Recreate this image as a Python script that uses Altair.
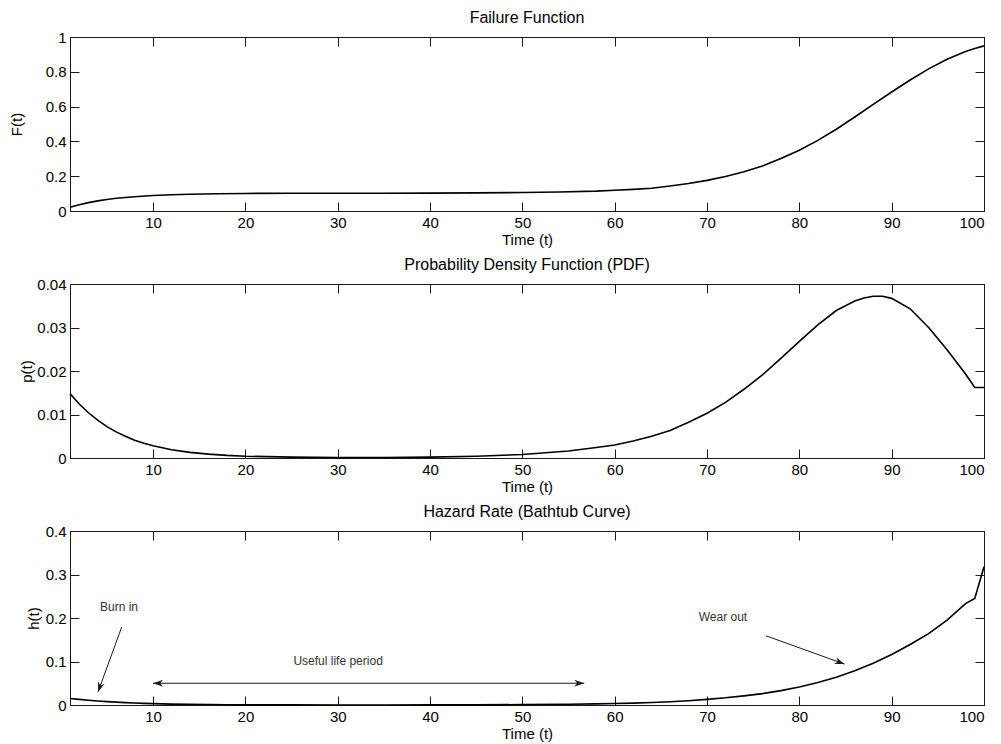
import math
import altair as alt
import pandas as pd

# ---------------- data ----------------
T_F = [1, 2, 3, 4, 5, 6, 7, 8, 10, 12, 14, 17, 20, 25, 30, 35, 40, 45, 50, 54, 58, 60,
       62, 64, 66, 68, 70, 72, 74, 76, 78, 80, 82, 84, 86, 88, 90, 92, 94, 96, 98, 99, 100]
F_VALUES = [0.021, 0.036, 0.048, 0.058, 0.066, 0.073, 0.078, 0.082, 0.089, 0.093, 0.096,
            0.099, 0.101, 0.102, 0.102, 0.102, 0.103, 0.104, 0.106, 0.109, 0.114, 0.119,
            0.124, 0.131, 0.144, 0.158, 0.176, 0.198, 0.225, 0.258, 0.302, 0.349, 0.406,
            0.470, 0.540, 0.613, 0.684, 0.753, 0.817, 0.872, 0.917, 0.934, 0.949]

T_P = [1, 2, 3, 4, 5, 6, 7, 8, 9, 10, 12, 14, 16, 18, 20, 25, 30, 35, 40, 45, 50, 55, 58,
       60, 62, 64, 66, 68, 70, 72, 74, 76, 78, 80, 82, 84, 86, 87, 88, 89, 90, 92, 94, 96,
       98, 99, 100]
P_VALUES = [0.0148, 0.0124, 0.0104, 0.0087, 0.0072, 0.0060, 0.0050, 0.0041, 0.0034, 0.0028,
            0.0019, 0.0013, 0.0009, 0.0006, 0.0004, 0.0002, 0.0001, 0.0001, 0.0002, 0.0004,
            0.0008, 0.0016, 0.0024, 0.0030, 0.0039, 0.0050, 0.0063, 0.0082, 0.0103, 0.0128,
            0.0158, 0.0191, 0.0229, 0.0268, 0.0306, 0.0339, 0.0361, 0.0368, 0.0372, 0.0372,
            0.0367, 0.0343, 0.0300, 0.0249, 0.0193, 0.0162, 0.0162]

T_H = [1, 2, 3, 4, 5, 6, 7, 8, 9, 10, 12, 14, 16, 18, 20, 25, 30, 35, 40, 45, 50, 55, 58,
       60, 62, 64, 66, 68, 70, 72, 74, 76, 78, 80, 82, 84, 86, 88, 90, 92, 94, 96, 98, 99, 100]
H_VALUES = [0.0151, 0.0129, 0.0109, 0.0092, 0.0077, 0.0065, 0.0054, 0.0045, 0.0037, 0.0031,
            0.0021, 0.0014, 0.0010, 0.0007, 0.0004, 0.0002, 0.0001, 0.0001, 0.0002, 0.0004,
            0.0009, 0.0018, 0.0027, 0.0034, 0.0044, 0.0057, 0.0073, 0.0097, 0.0130, 0.0165,
            0.0210, 0.0262, 0.0330, 0.0412, 0.0516, 0.0640, 0.0785, 0.0961, 0.1160, 0.1390,
            0.1640, 0.1950, 0.2330, 0.2450, 0.3180]

X_TICKS = [10, 20, 30, 40, 50, 60, 70, 80, 90, 100]
F_TICKS = [0, 0.2, 0.4, 0.6, 0.8, 1]
P_TICKS = [0, 0.01, 0.02, 0.03, 0.04]
H_TICKS = [0, 0.1, 0.2, 0.3, 0.4]

# annotations of the hazard panel
LABEL_TEXT = ["Burn in", "Useful life period", "Wear out"]
LABEL_T = [4.25, 25.2, 69.1]
LABEL_H = [0.225, 0.101, 0.202]

ARROW_T0 = [6.6, 10.0, 76.4]
ARROW_H0 = [0.179, 0.05, 0.159]
ARROW_T1 = [4.03, 56.7, 84.9]
ARROW_H1 = [0.030, 0.05, 0.094]

HEAD_T = [4.03, 10.0, 56.7, 84.9]
HEAD_H = [0.030, 0.05, 0.05, 0.094]
HEAD_FROM_T = [6.6, 56.7, 10.0, 76.4]
HEAD_FROM_H = [0.179, 0.05, 0.05, 0.159]

# ---------------- styling ----------------
FONT = "Liberation Sans"
W, H = 914, 174
X_DOMAIN = [1, 100]
INK = "#1a1a1a"
TICK_IN = alt.ExprRef(expr="-9")


def x_enc(bottom=True):
    if bottom:
        ax = alt.Axis(values=X_TICKS, title="Time (t)", orient="bottom", tickSize=TICK_IN,
                      labelPadding=13, titlePadding=2, grid=False)
    else:
        ax = alt.Axis(values=X_TICKS, title=None, orient="top", labels=False,
                      tickSize=TICK_IN, grid=False)
    return alt.X("t:Q", scale=alt.Scale(domain=X_DOMAIN, nice=False, zero=False), axis=ax)


def y_enc(col, title, domain, ticks, left=True, tpad=5):
    if left:
        ax = alt.Axis(values=ticks, title=title, orient="left", tickSize=TICK_IN,
                      labelPadding=13, titlePadding=tpad, grid=False, format="~g")
    else:
        ax = alt.Axis(values=ticks, title=None, orient="right", labels=False,
                      tickSize=TICK_IN, grid=False)
    return alt.Y(f"{col}:Q", scale=alt.Scale(domain=domain, nice=False), axis=ax)


def panel(t, v, col, ytitle, domain, ticks, title, tpad, extra=None):
    df = pd.DataFrame({"t": t, col: v})
    main = alt.Chart(df).mark_line(color="black", strokeWidth=1.6).encode(
        x=x_enc(True), y=y_enc(col, ytitle, domain, ticks, True, tpad))
    frame = alt.Chart(df).mark_line(strokeOpacity=0).encode(
        x=x_enc(False), y=y_enc(col, ytitle, domain, ticks, False))
    layers = [main, frame] + (extra or [])
    return alt.layer(*layers).resolve_axis(x="independent", y="independent").properties(
        width=W, height=H,
        title=alt.TitleParams(text=title, fontSize=16, fontWeight="normal", font=FONT,
                              color="black", offset=4, anchor="middle"))


# hazard annotations
H_DOMAIN = [0, 0.4]
sx = alt.Scale(domain=X_DOMAIN, nice=False, zero=False)
sy = alt.Scale(domain=H_DOMAIN, nice=False)

lab_df = pd.DataFrame({"t": LABEL_T, "h": LABEL_H, "txt": LABEL_TEXT})
labels = alt.Chart(lab_df).mark_text(align="left", baseline="middle", font=FONT,
                                     fontSize=12, color="#333333").encode(
    x=alt.X("t:Q", scale=sx, axis=None), y=alt.Y("h:Q", scale=sy, axis=None), text="txt:N")

arr_df = pd.DataFrame({"t0": ARROW_T0, "h0": ARROW_H0, "t1": ARROW_T1, "h1": ARROW_H1})
shafts = alt.Chart(arr_df).mark_rule(color=INK, strokeWidth=1).encode(
    x=alt.X("t0:Q", scale=sx, axis=None), y=alt.Y("h0:Q", scale=sy, axis=None),
    x2="t1:Q", y2="h1:Q")


def screen_angle(t0, h0, t1, h1):
    dx = (t1 - t0) / (X_DOMAIN[1] - X_DOMAIN[0]) * W
    dy = -(h1 - h0) / (H_DOMAIN[1] - H_DOMAIN[0]) * H
    return math.degrees(math.atan2(dy, dx)) % 360


head_df = pd.DataFrame({
    "t": HEAD_T, "h": HEAD_H,
    "ang": [screen_angle(a, b, c, d) for a, b, c, d in zip(HEAD_FROM_T, HEAD_FROM_H, HEAD_T, HEAD_H)],
})
ARROW_PATH = "M0,0 L-2,-0.7 L-1.4,0 L-2,0.7 Z"
heads = alt.Chart(head_df).mark_point(shape=ARROW_PATH, filled=True, size=100, color=INK,
                                      opacity=1, strokeWidth=0).encode(
    x=alt.X("t:Q", scale=sx, axis=None), y=alt.Y("h:Q", scale=sy, axis=None),
    angle=alt.Angle("ang:Q", scale=None))

p1 = panel(T_F, F_VALUES, "F", "F(t)", [0, 1], F_TICKS, "Failure Function", 21)
p2 = panel(T_P, P_VALUES, "p", "p(t)", [0, 0.04], P_TICKS, "Probability Density Function (PDF)", 2)
p3 = panel(T_H, H_VALUES, "h", "h(t)", H_DOMAIN, H_TICKS, "Hazard Rate (Bathtub Curve)", 4,
           extra=[shafts, heads, labels])

chart = alt.vconcat(p1, p2, p3, spacing=8).properties(
    padding={"left": 0, "top": 1, "right": 5, "bottom": 0},
    background="white",
).configure_view(stroke=INK, strokeWidth=1).configure_axis(
    domainColor=INK, tickColor=INK, labelFont=FONT, labelFontSize=15, labelColor="black",
    titleFont=FONT, titleFontSize=15, titleFontWeight="normal", titleColor="black",
)

chart.save("out.html", embed_options={"renderer": "svg", "actions": False})
